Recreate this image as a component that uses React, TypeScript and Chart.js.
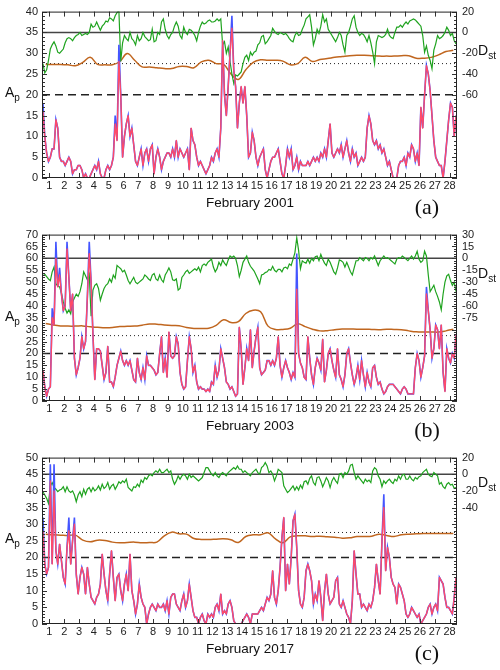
import React, { useEffect, useRef } from 'react';
import { Chart, registerables } from 'chart.js';

Chart.register(...registerables);

const DAYS = [1, 2, 3, 4, 5, 6, 7, 8, 9, 10, 11, 12, 13, 14, 15, 16, 17, 18, 19, 20, 21, 22, 23, 24, 25, 26, 27, 28];

// 3-hourly Ap (8 values per day), February 2001
const AP_2001 = [
  18, 10, 6, 4, 5, 7, 7, 14,
  12, 5, 4, 4, 3, 4, 5, 4,
  1, 2, 2, 3, 3, 2, 0, 1,
  0, 0, 1, 2, 3, 2, 4, 1,
  0, 0, 2, 3, 2, 3, 5, 15,
  9, 32, 20, 5, 10, 13, 15, 10,
  12, 8, 4, 3, 5, 7, 3, 6,
  7, 4, 7, 8, 1, 5, 7, 5,
  2, 4, 5, 6, 6, 5, 7, 5,
  9, 5, 7, 6, 5, 6, 7, 2,
  12, 9, 8, 5, 3, 4, 3, 2,
  1, 2, 3, 5, 4, 6, 7, 5,
  12, 33, 20, 15, 22, 30, 39, 26,
  22, 12, 18, 22, 18, 22, 15, 5,
  6, 11, 9, 5, 3, 5, 6, 7,
  2, 0, 2, 4, 5, 5, 6, 7,
  4, 1, 0, 3, 7, 5, 7, 2,
  3, 5, 2, 4, 3, 3, 3, 4,
  3, 4, 5, 4, 5, 4, 6, 5,
  7, 5, 9, 13, 6, 5, 6, 7,
  6, 8, 5, 7, 9, 6, 4, 7,
  5, 6, 3, 4, 5, 4, 5, 12,
  15, 13, 9, 8, 9, 7, 8, 6,
  7, 5, 3, 4, 2, 0, 0, 0,
  3, 4, 4, 5, 3, 6, 5, 8,
  7, 4, 6, 3, 17, 12, 20, 27,
  25, 21, 15, 9, 5, 4, 3, 3,
  0, 4, 9, 14, 18, 17, 10, 15,
];
const RED_IDX_2001 = [0, 39, 41, 102];
const RED_VAL_2001 = [16, 13, 28, 36];

// 3-hourly Dst (nT), February 2001
const DST_2001 = [
  -30, -39, -36, -27, -16, -12, -9, -13,
  -19, -20, -18, -16, -10, -6, -5, -6,
  -8, -5, -3, -2, 0, -3, -2, -1,
  -2, 0, 8, 5, 6, 10, 6, 2,
  6, 8, 11, 10, 14, 13, 11, 16,
  19, 21, -28, -10, -3, -6, -8, 0,
  -6, -8, -12, -3, -8, -6, 0, -4,
  -6, -8, -7, 3, -9, -8, 0, -2,
  10, 13, 3, -3, -6, -2, 0, 6,
  10, 6, -3, -6, 5, 0, -2, 3,
  2, 0, -3, -8, 0, 6, 10, 8,
  9, 11, 12, 10, 10, 11, 13, 11,
  13, -12, -9, -20, -14, -28, -40, -49,
  -41, -42, -40, -38, -30, -24, -22, -27,
  -19, -22, -19, -18, -12, -10, -4, -3,
  -11, -9, -6, -3, 4, 1, -1, -2,
  0, -1, -2, -1, -3, -6, -8, -9,
  -3, 0, -3, -2, 3, 7, 13, 15,
  17, 5, -12, -6, 3, -1, 6, 17,
  10, 13, 3, 0, -3, -6, -9, -5,
  0, -3, -12, -19, -3, 0, 6, 13,
  16, 5, 0, -3, -1, -2, -5, -9,
  -3, -10, -19, -30, -9, -3, -4, -5,
  -4, -2, 3, -3, -5, -6, 0, 5,
  5, 7, 5, 8, 10, 8, 11, 12,
  13, 12, 10, 8, 6, -3, -19, -13,
  -22, -27, -35, -17, -11, -3, -6, -5,
  -3, 0, 5, 2, -3, -1, -8, -11,
];

// 12-hourly brown curve (Ap scale), February 2001
const BROWN_2001 = [
  27.3, 27.3, 27.3, 27.2, 27.0, 27.8, 29.0, 27.3, 27.2, 27.2, 28.0, 29.9, 28.3, 26.7,
  26.7, 26.5, 26.3, 26.3, 26.8, 26.8, 26.5, 27.9, 28.3, 27.5, 27.3, 25.0, 23.7, 26.0,
  27.8, 28.4, 28.3, 28.3, 28.1, 27.2, 27.5, 29.0, 28.0, 28.5, 28.7, 29.0, 29.2, 29.4,
  29.5, 29.5, 29.4, 29.3, 29.3, 29.3, 29.4, 29.4, 28.8, 28.8, 29.0, 29.6, 30.4, 30.7,
];

// February 2003
const AP_2003 = [
  13, 6, 2, 5, 6, 39, 32, 67,
  48, 56, 45, 38, 40, 67, 52, 38,
  45, 18, 11, 14, 18, 27, 22, 25,
  44, 67, 50, 28, 9, 22, 22, 21,
  15, 9, 12, 23, 8, 8, 6, 10,
  15, 18, 21, 17, 15, 17, 15, 17,
  13, 9, 8, 18, 12, 9, 14, 9,
  19, 15, 15, 14, 13, 11, 12, 20,
  27, 12, 18, 10, 29, 19, 18, 19,
  27, 24, 12, 7, 5, 6, 17, 27,
  22, 12, 15, 8, 5, 6, 5, 5,
  4, 5, 4, 8, 7, 15, 10, 13,
  22, 18, 14, 8, 7, 5, 6, 4,
  2, 3, 31, 22, 7, 14, 22, 17,
  30, 14, 21, 27, 31, 14, 11, 12,
  13, 17, 17, 15, 17, 15, 18, 27,
  15, 10, 14, 17, 14, 12, 9, 12,
  10, 62, 20, 16, 14, 10, 9, 27,
  18, 11, 7, 14, 18, 16, 13, 26,
  8, 13, 20, 22, 17, 13, 10, 22,
  11, 9, 6, 11, 20, 22, 16, 11,
  7, 10, 15, 9, 17, 11, 6, 12,
  8, 6, 14, 15, 10, 7, 8, 5,
  3, 4, 6, 7, 7, 7, 6, 5,
  4, 3, 5, 6, 5, 3, 3, 3,
  3, 14, 20, 17, 10, 14, 19, 48,
  38, 30, 18, 22, 32, 30, 22, 32,
  12, 4, 22, 18, 16, 20, 18, 28,
];
const RED_IDX_2003 = [5, 7, 9, 13, 25, 137, 207];
const RED_VAL_2003 = [35, 60, 53, 64, 62, 47, 45];

const DST_2003 = [
  -19, -20, -23, -26, -28, -17, -11, -32,
  -35, -36, -44, -55, -63, -69, -65, -70,
  -55, -50, -45, -48, -42, -32, -17, -22,
  -27, -20, -73, -40, -34, -32, -38, -53,
  -45, -38, -34, -32, -26, -30, -21, -25,
  -9, -11, -13, -17, -15, -21, -28, -32,
  -28, -24, -30, -32, -30, -28, -26, -21,
  -23, -26, -28, -21, -19, -26, -28, -21,
  -27, -30, -21, -17, -12, -17, -27, -28,
  -26, -40, -38, -24, -21, -17, -15, -19,
  -17, -15, -13, -15, -11, -17, -9, -7,
  -9, -5, -3, -1, -11, -17, -13, -5,
  -9, -2, -6, -9, -2, 3, 1, 3,
  0, -9, -23, -15, -5, -1, 3, -5,
  -10, -13, -16, -21, -26, -32, -21, -20,
  -18, -17, -14, -15, -10, -15, -17, -14,
  -14, -17, -12, -11, -13, -7, -9, -1,
  7, 26, 10, -13, -3, -5, -6, -1,
  -6, 0, -3, 2, 3, -3, 5, -1,
  -6, -9, -1, -5, -11, -17, -20, -12,
  -2, -3, -5, -11, -5, -11, -17, -21,
  -12, -3, -3, 1, -1, -3, 1, 0,
  -3, 1, -1, 3, -3, -9, -3, 0,
  3, 0, 1, -1, -3, -5, -7, -1,
  1, 0, 3, 1, -1, -3, 0, 3,
  -1, 3, 9, -1, -5, -3, 9, 3,
  -21, -42, -38, -34, -42, -48, -55, -65,
  -45, -30, -22, -20, -28, -34, -30, -42,
];

const BROWN_2003 = [
  32.6, 32.0, 31.6, 31.5, 31.5, 31.6, 31.2, 31.0, 30.8, 30.9, 31.3, 31.4, 31.5, 31.9,
  32.4, 32.3, 32.0, 31.8, 31.7, 30.9, 30.5, 30.5, 30.6, 31.8, 34.2, 33.0, 33.4, 36.8,
  38.2, 37.5, 31.5, 30.1, 30.1, 30.6, 32.5, 31.3, 30.2, 29.5, 29.6, 30.0, 30.3, 30.3,
  30.2, 30.2, 30.1, 30.0, 30.2, 30.1, 30.0, 29.5, 29.1, 29.0, 29.0, 29.0, 29.5, 30.2,
];

// February 2017
const AP_2017 = [
  32, 18, 15, 17, 48, 18, 48, 22,
  18, 24, 19, 14, 12, 23, 32, 18,
  25, 32, 15, 9, 14, 17, 15, 9,
  17, 12, 8, 7, 6, 8, 9, 12,
  21, 15, 10, 7, 15, 22, 14, 7,
  14, 15, 10, 7, 12, 15, 10, 21,
  10, 7, 3, 6, 12, 8, 6, 5,
  0, 3, 5, 6, 5, 4, 6, 5,
  5, 6, 4, 7, 3, 8, 9, 9,
  6, 5, 4, 7, 9, 5, 7, 12,
  8, 4, 2, 2, 0, 2, 3, 1,
  0, 3, 2, 3, 2, 5, 6, 4,
  9, 3, 4, 3, 6, 7, 5, 1,
  0, 0, 0, 0, 1, 2, 3, 2,
  0, 3, 3, 3, 3, 4, 5, 4,
  6, 8, 7, 9, 16, 8, 6, 10,
  17, 26, 32, 10, 18, 12, 20, 31,
  33, 23, 10, 6, 5, 8, 16, 18,
  16, 13, 6, 9, 7, 13, 8, 1,
  10, 15, 9, 6, 7, 8, 13, 14,
  6, 5, 7, 5, 3, 2, 0, 7,
  22, 15, 9, 9, 5, 6, 5, 4,
  6, 5, 7, 11, 18, 13, 9, 25,
  39, 16, 23, 20, 14, 12, 11, 6,
  12, 11, 9, 7, 3, 2, 3, 5,
  4, 3, 2, 3, 0, 1, 2, 3,
  5, 6, 3, 5, 6, 4, 14, 13,
  12, 8, 5, 5, 4, 3, 8, 14,
];
const RED_IDX_2017 = [0, 4, 6, 14, 17, 184];
const RED_VAL_2017 = [28, 43, 40, 28, 30, 35];

const DST_2017 = [
  -21, -25, -29, -35, -14, -10, -16, -18,
  -21, -19, -18, -15, -21, -15, -20, -22,
  -20, -25, -33, -25, -21, -27, -18, -24,
  -18, -16, -21, -16, -20, -18, -14, -19,
  -12, -17, -15, -10, -18, -14, -12, -18,
  -14, -9, -11, -8, -10, -6, -16, -18,
  -20, -15, -16, -12, -15, -7, -10, -4,
  -6, -2, 0, -2, 2, 4, 2, 6,
  2, 2, 4, 6, 2, 4, -6, -12,
  -8, -2, -6, -2, 0, -2, -6, 0,
  -4, -2, -4, -6, -8, -6, -4, 2,
  8, 8, 4, 0, -2, 2, -2, -4,
  0, 2, 0, -2, 2, 4, 6, 8,
  6, 10, 6, 6, 2, 4, 2, 0,
  -2, 2, 4, 6, 2, 0, 8, 10,
  14, 10, 2, 4, 0, -8, -2, 6,
  4, 2, -14, -18, -22, -20, -17, -14,
  -19, -15, -19, -13, -17, -9, -8, -12,
  -5, -2, -10, -13, -4, -3, -8, -15,
  -10, -4, -8, -16, -8, -4, -8, -11,
  0, 1, -4, 2, 0, 4, 11, 12,
  2, -6, -2, -5, -8, -11, -6, -9,
  -7, -10, 4, 8, 6, -2, -6, -15,
  -8, -11, -8, -6, -9, -11, -6, -8,
  -2, -6, -1, 0, -6, -6, -2, -6,
  -8, -4, -6, -3, -2, 2, 4, 6,
  0, -2, -3, 2, 0, -2, -12, -10,
  -15, -17, -12, -10, -13, -12, -17, -16,
];

const BROWN_2017 = [
  27.0, 26.8, 26.7, 26.6, 26.7, 25.2, 24.7, 25.2, 25.1, 24.6, 24.4, 24.5, 24.6, 24.4,
  24.5, 24.6, 26.5, 27.6, 27.1, 27.0, 25.7, 25.4, 25.4, 25.5, 25.6, 25.3, 24.5, 26.3,
  26.8, 26.8, 27.4, 25.6, 24.4, 26.2, 26.5, 26.5, 26.3, 26.4, 26.2, 26.1, 25.8, 25.9,
  26.3, 26.3, 26.4, 27.0, 26.6, 26.3, 26.8, 27.0, 27.1, 27.2, 27.2, 27.2, 27.2, 27.2,
];

const AP_SERIES = [AP_2001, AP_2003, AP_2017];
const DST_SERIES = [DST_2001, DST_2003, DST_2017];
const BROWN_SERIES = [BROWN_2001, BROWN_2003, BROWN_2017];
const RED_IDX = [RED_IDX_2001, RED_IDX_2003, RED_IDX_2017];
const RED_VAL = [RED_VAL_2001, RED_VAL_2003, RED_VAL_2017];

const AP_MAX = [40, 70, 50];
const DST_MIN = [-140, -180, -180];
const DST_MAX = [20, 30, 20];
const DST_STEP = [20, 15, 20];
const DST_LABEL_MIN = [-60, -75, -40];
const SOLID_LEVEL = [35, 60, 45];
const DOTTED_LEVEL = [27.5, 27.5, 27.5];
const DASHED_LEVEL = [20, 20, 20];
const TITLES = ['February 2001', 'February 2003', 'February 2017'];
const LETTERS = ['(a)', '(b)', '(c)'];
const AP_LABEL_Y = [92, 93, 92];
const DST_LABEL_Y = [50, 50, 36];

const PANEL_H = 223;
const SANS = '"Liberation Sans", Arial, sans-serif';
const SERIF = '"Liberation Serif", "Times New Roman", serif';

const frame = {
  id: 'frame',
  beforeDatasetsDraw(chart: any) {
    chart.ctx.miterLimit = 9;
  },
  afterDraw(chart: any) {
    const { ctx, chartArea: a, scales } = chart;
    const x = scales.x, y = scales.y, y2 = scales.y2;
    ctx.save();
    ctx.strokeStyle = '#333';
    ctx.lineWidth = 1;
    ctx.setLineDash([]);
    ctx.beginPath();
    for (const t of x.ticks) {
      const px = Math.round(x.getPixelForValue(t.value)) + 0.5;
      ctx.moveTo(px, a.bottom);
      ctx.lineTo(px, a.bottom - 5);
      ctx.moveTo(px, a.top);
      ctx.lineTo(px, a.top + 5);
    }
    for (let v = y.min; v <= y.max + 1e-6; v += 1) {
      const py = Math.round(y.getPixelForValue(v)) + 0.5;
      const len = v % 5 === 0 ? 5 : 3;
      ctx.moveTo(a.left, py);
      ctx.lineTo(a.left + len, py);
    }
    const sub = y2.options.ticks.stepSize / 5;
    for (let k = 0; ; k++) {
      const v = y2.min + k * sub;
      if (v > y2.max + 1e-6) break;
      const py = Math.round(y2.getPixelForValue(v)) + 0.5;
      const len = k % 5 === 0 ? 5 : 3;
      ctx.moveTo(a.right, py);
      ctx.lineTo(a.right - len, py);
    }
    ctx.stroke();
    ctx.strokeStyle = '#222';
    ctx.strokeRect(a.left + 0.5, a.top + 0.5, a.right - a.left - 1, a.bottom - a.top - 1);
    ctx.restore();
  },
};

function Panel({ k }: { k: number }) {
  const ref = useRef<HTMLCanvasElement | null>(null);

  useEffect(() => {
    const ap = AP_SERIES[k];
    const red = ap.slice();
    RED_IDX[k].forEach((ix, j) => {
      red[ix] = RED_VAL[k][j];
    });
    const pts = (arr: number[], perDay: number) =>
      arr.map((v, i) => ({ x: (i + 0.5) / perDay, y: v }));
    const xMin = 0;
    const xMax = DAYS.length;
    const level = (v: number) => [
      { x: xMin, y: v },
      { x: xMax, y: v },
    ];
    const tickFont = { family: SANS, size: 11 };
    const noGrid = { display: false, drawTicks: false };

    const chart = new Chart(ref.current as HTMLCanvasElement, {
      type: 'line',
      data: {
        datasets: [
          {
            label: 'ap-red',
            data: pts(red, 8),
            borderColor: '#ff4a68',
            borderWidth: 1.4,
            borderJoinStyle: 'round',
            pointRadius: 0,
            yAxisID: 'y',
            order: 0,
          },
          {
            label: 'ap-blue',
            data: pts(ap, 8),
            borderColor: '#4455ff',
            borderWidth: 1.6,
            borderJoinStyle: 'miter',
            pointRadius: 0,
            yAxisID: 'y',
            order: 1,
          },
          {
            label: 'Dst',
            data: pts(DST_SERIES[k], 8),
            borderColor: '#1fa31f',
            borderWidth: 1.2,
            pointRadius: 0,
            yAxisID: 'y2',
            order: 2,
          },
          {
            label: 'brown',
            data: pts(BROWN_SERIES[k], 2),
            borderColor: '#c0661f',
            borderWidth: 1.5,
            pointRadius: 0,
            tension: 0.4,
            yAxisID: 'y',
            order: 3,
          },
          {
            label: 'solid',
            data: level(SOLID_LEVEL[k]),
            borderColor: '#444',
            borderWidth: 1.5,
            pointRadius: 0,
            yAxisID: 'y',
            order: 4,
          },
          {
            label: 'dotted',
            data: level(DOTTED_LEVEL[k]),
            borderColor: '#222',
            borderWidth: 1,
            borderDash: [1, 3],
            pointRadius: 0,
            yAxisID: 'y',
            order: 5,
          },
          {
            label: 'dashed',
            data: level(DASHED_LEVEL[k]),
            borderColor: '#222',
            borderWidth: 1.4,
            borderDash: [8, 5],
            pointRadius: 0,
            yAxisID: 'y',
            order: 6,
          },
        ],
      },
      options: {
        responsive: false,
        animation: false,
        devicePixelRatio: 1,
        events: [],
        layout: { padding: { top: 9, left: 0, right: 0, bottom: 0 } },
        plugins: { legend: { display: false }, tooltip: { enabled: false } },
        scales: {
          x: {
            type: 'linear',
            min: xMin,
            max: xMax,
            grid: noGrid,
            border: { display: false },
            afterBuildTicks: (s: any) => {
              s.ticks = DAYS.map((d) => ({ value: d - 0.5 }));
            },
            afterFit: (s: any) => {
              s.height = 45;
            },
            ticks: {
              autoSkip: false,
              maxRotation: 0,
              padding: 1,
              color: '#222',
              font: tickFont,
              callback: (v: any) => String(Math.round(Number(v) + 0.5)),
            },
          },
          y: {
            position: 'left',
            min: 0,
            max: AP_MAX[k],
            grid: noGrid,
            border: { display: false },
            afterFit: (s: any) => {
              s.width = 42;
            },
            ticks: { stepSize: 5, autoSkip: false, padding: 4, color: '#222', font: tickFont },
          },
          y2: {
            position: 'right',
            min: DST_MIN[k],
            max: DST_MAX[k],
            grid: noGrid,
            border: { display: false },
            afterFit: (s: any) => {
              s.width = 43;
            },
            ticks: {
              stepSize: DST_STEP[k],
              autoSkip: false,
              padding: 5,
              color: '#222',
              font: tickFont,
              callback: (v: any) => (Number(v) >= DST_LABEL_MIN[k] ? String(v) : ''),
            },
          },
        },
      } as any,
      plugins: [frame],
    });
    return () => chart.destroy();
  }, [k]);

  return (
    <div style={{ position: 'absolute', left: 0, top: k * PANEL_H, width: 500, height: PANEL_H }}>
      <canvas ref={ref} width={500} height={PANEL_H} style={{ display: 'block' }} />
      <div
        style={{
          position: 'absolute',
          left: 5,
          top: AP_LABEL_Y[k] - 9,
          fontFamily: SANS,
          fontSize: 14,
          lineHeight: '18px',
          color: '#111',
          whiteSpace: 'nowrap',
        }}
      >
        A<span style={{ fontSize: 10, position: 'relative', top: 4 }}>p</span>
      </div>
      <div
        style={{
          position: 'absolute',
          left: 478,
          top: DST_LABEL_Y[k] - 9,
          fontFamily: SANS,
          fontSize: 14,
          lineHeight: '18px',
          color: '#111',
          whiteSpace: 'nowrap',
        }}
      >
        D<span style={{ fontSize: 10, position: 'relative', top: 4 }}>st</span>
      </div>
      <div
        style={{
          position: 'absolute',
          left: 0,
          width: 500,
          top: 195,
          textAlign: 'center',
          fontFamily: SANS,
          fontSize: 13.5,
          lineHeight: '16px',
          color: '#111',
        }}
      >
        {TITLES[k]}
      </div>
      <div
        style={{
          position: 'absolute',
          left: 402,
          width: 50,
          top: 195,
          textAlign: 'center',
          fontFamily: SERIF,
          fontSize: 22,
          lineHeight: '24px',
          color: '#111',
        }}
      >
        {LETTERS[k]}
      </div>
    </div>
  );
}

export default function App() {
  return (
    <div
      style={{
        position: 'absolute',
        left: 0,
        top: 0,
        width: 500,
        height: 670,
        background: '#fff',
        overflow: 'hidden',
      }}
    >
      {[0, 1, 2].map((k) => (
        <Panel key={k} k={k} />
      ))}
    </div>
  );
}
